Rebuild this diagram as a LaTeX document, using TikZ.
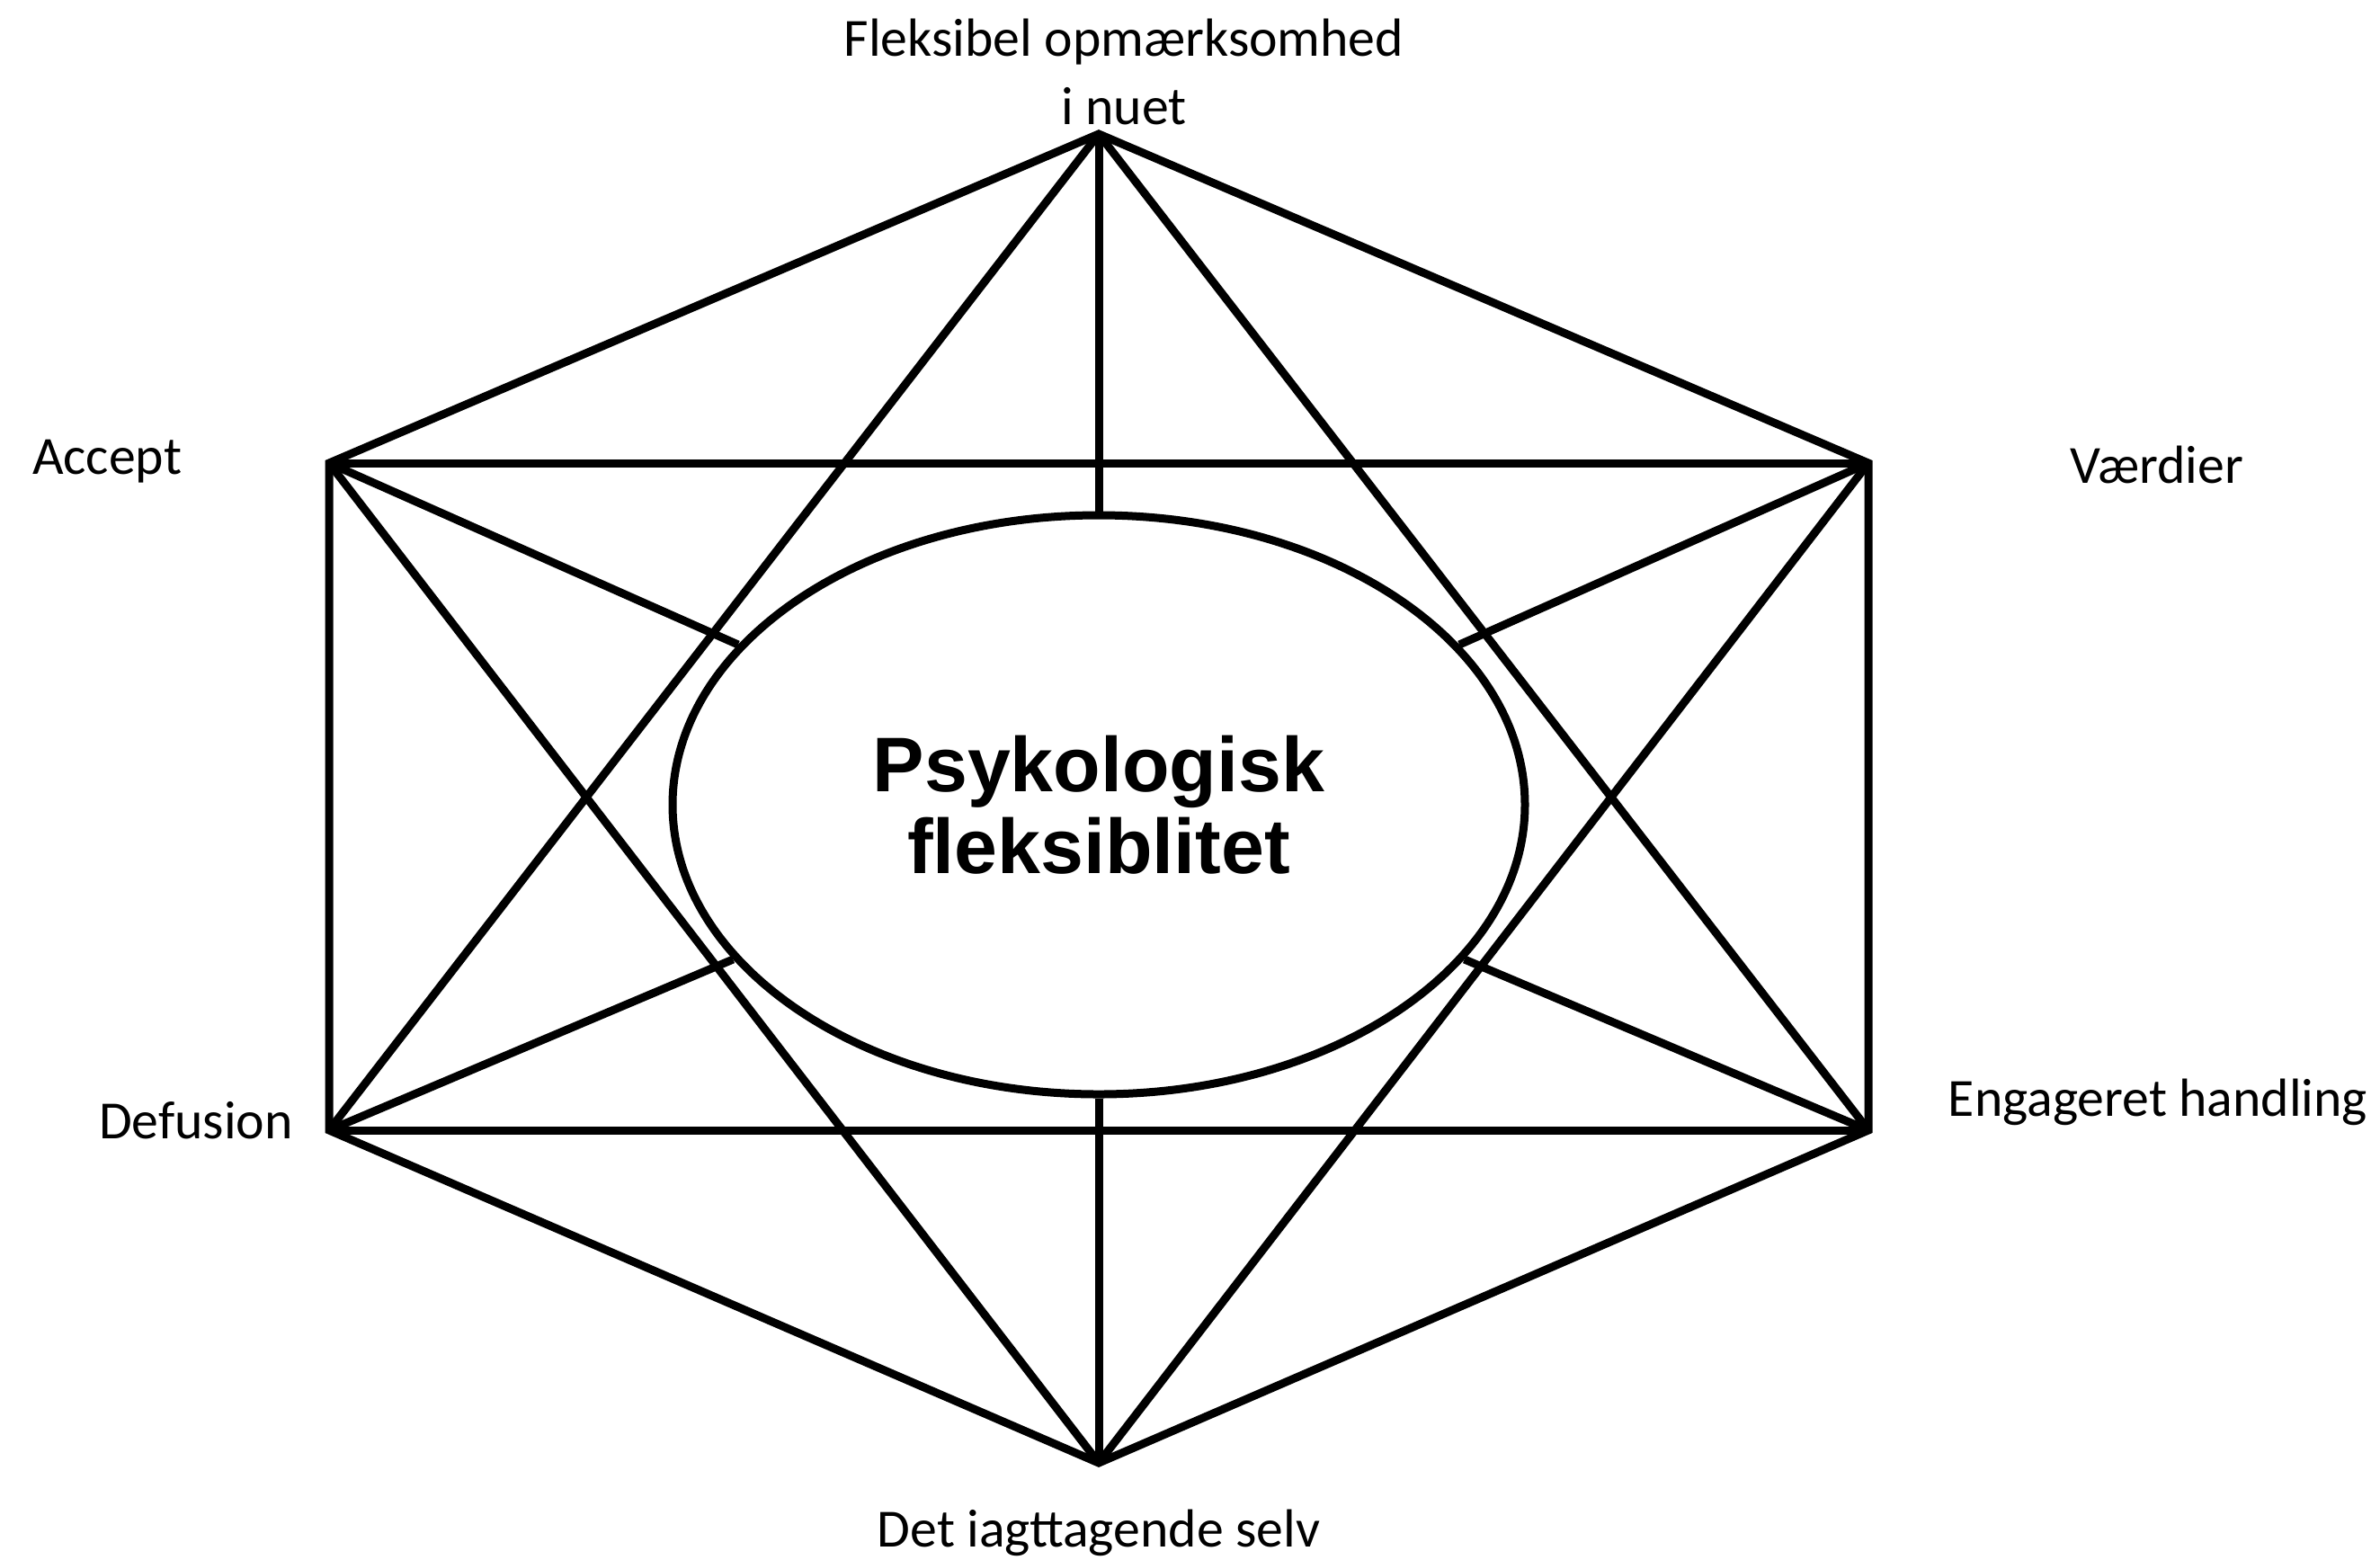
\documentclass[tikz,border=0pt]{standalone}
\usepackage{fontspec}
\setmainfont{Carlito}
\newfontfamily\heavyfont{Liberation Sans}
\usetikzlibrary{shapes.geometric}

\begin{document}
\begin{tikzpicture}[
    corner/.style={line width=0.09cm, line join=miter},
    core/.style={draw, ellipse, line width=0.09cm, minimum width=9.48cm, minimum height=6.44cm, align=center,
        font=\heavyfont\bfseries\fontsize{24.5}{26}\selectfont},
    tag/.style={align=center, font=\fontsize{17}{21.6}\selectfont}
]
\useasboundingbox (0,0) rectangle (26.47,-17.34);

% Corners
\coordinate (top) at (12.22,-1.49);
\coordinate (ul) at (3.66,-5.15);
\coordinate (ur) at (20.78,-5.15);
\coordinate (ll) at (3.66,-12.57);
\coordinate (lr) at (20.78,-12.57);
\coordinate (bot) at (12.22,-16.27);

% Nodes
\node[core] (flex) at (12.22,-8.95) {Psykologisk\\fleksiblitet};
\node[tag] (now) at (12.50,-0.80) {Fleksibel opmærksomhed\\i nuet};
\node[tag] (accept) at (1.19,-5.13) {Accept};
\node[tag] (values) at (23.99,-5.17) {Værdier};
\node[tag] (defusion) at (2.18,-12.46) {Defusion};
\node[tag] (action) at (24.00,-12.26) {Engageret handling};
\node[tag] (self) at (12.22,-17.05) {Det iagttagende selv};

% Hexagon
\draw[corner] (top) -- (ur) -- (lr) -- (bot) -- (ll) -- (ul) -- cycle;
\draw[corner] (ul) -- (ur);
\draw[corner] (ll) -- (lr);

% Star
\draw[corner] (top) -- (ll);
\draw[corner] (top) -- (lr);
\draw[corner] (bot) -- (ul);
\draw[corner] (bot) -- (ur);

% Spokes
\foreach \c in {top,ul,ur,ll,lr,bot}
    \draw[corner] (\c) -- (flex);

\end{tikzpicture}
\end{document}
